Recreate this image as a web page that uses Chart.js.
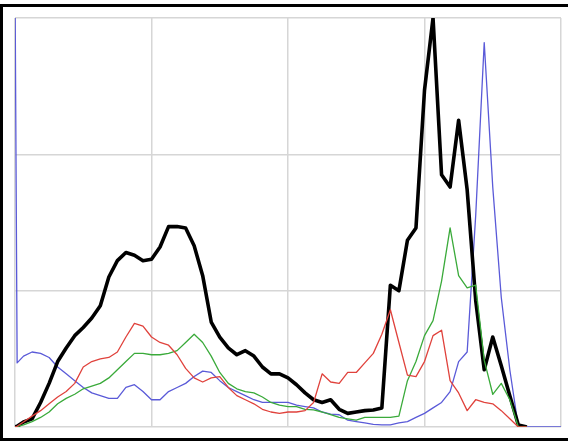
<!DOCTYPE html>
<html>
<head>
<meta charset="utf-8">
<script src="https://cdn.jsdelivr.net/npm/chart.js@4.4.0/dist/chart.umd.min.js"></script>
<style>
  html, body { margin: 0; padding: 0; background: #fff; }
  #wrap { position: relative; width: 568px; height: 441px; overflow: hidden; }
  #frame {
    position: absolute; left: 0; top: 4px; width: 580px; height: 431px;
    border-left: 3px solid #000; border-top: 3px solid #000; border-bottom: 3px solid #000;
  }
  #c { position: absolute; left: 0; top: 0; }
</style>
</head>
<body>
<div id="wrap">
  <div id="frame"></div>
  <canvas id="c" width="568" height="441"></canvas>
</div>
<script>
// intensidad (0..256), muestreo cada 4 con un punto extra en 1
const levels = [0, 1, 4, 8, 12, 16, 20, 24, 28, 32, 36, 40, 44, 48, 52, 56, 60, 64,
  68, 72, 76, 80, 84, 88, 92, 96, 100, 104, 108, 112, 116, 120, 124, 128,
  132, 136, 140, 144, 148, 152, 156, 160, 164, 168, 172, 176, 180, 184, 188, 192,
  196, 200, 204, 208, 212, 216, 220, 224, 228, 232, 236, 240, 244, 248, 252, 256];

// luminancia
const lum = [0, 0.5, 3.7, 6, 18, 32, 48, 58, 67, 73, 80, 89, 110, 122, 128, 126, 122, 123,
  132, 147, 147, 146, 133, 111, 77, 66, 58, 53, 56, 52, 44, 39, 39, 36,
  31, 25, 20, 18, 20, 13, 10, 11, 12, 12.5, 14, 104, 100, 137, 146, 247,
  300, 185, 176, 225, 174, 93, 42, 66, 45, 23, 1.5, 0, null, null, null, null];

const red = [0, 0.5, 3.7, 8, 12, 17, 22, 26, 32, 44, 48, 50, 51, 55, 66, 76, 74, 66,
  62, 60, 53, 43, 36, 33, 36, 37, 29, 23, 20, 17, 13, 11, 10, 11,
  11, 12, 18, 39, 33, 32, 40, 40, 47, 54, 68, 86, 62, 38, 37, 48,
  67, 71, 34, 25, 12, 20, 18, 17, 12, 6, 0, 0, null, null, null, null];

const green = [0, 0.3, 1.5, 4, 7, 11, 17, 21, 24, 28, 30, 32, 36, 42, 48, 54, 54, 53,
  53, 54, 56, 62, 68, 62, 52, 40, 32, 28, 26, 25, 22, 18, 16, 15,
  15, 13, 12.5, 11, 9, 7, 6, 5, 7, 7, 7, 7, 8, 34, 48, 67,
  78, 107, 146, 111, 102, 104, 49, 24, 32, 20, 0, 0, null, null, null, null];

const blue = [330, 47, 52, 55, 54, 51, 44, 39, 34, 29, 25, 23, 21, 21, 29, 31, 26, 20,
  20, 26, 29, 32, 37, 41, 40, 34, 29, 26, 23, 20, 18, 18, 18, 18,
  16, 15, 14, 11, 9.5, 9, 5, 4, 3, 2, 1.5, 1.5, 3, 4, 7, 10,
  14, 18, 26, 48, 55, 155, 282, 176, 95, 42, 0, 0, 0, 0, 0, 0];

const pts = arr => levels.map((x, i) => ({ x: x, y: arr[i] }));

const gridGray = '#d6d6d6';

new Chart(document.getElementById('c'), {
  type: 'line',
  data: {
    datasets: [
      { label: 'R', data: pts(red), borderColor: '#e0423c', borderWidth: 1.3 },
      { label: 'G', data: pts(green), borderColor: '#3aaa3a', borderWidth: 1.3 },
      { label: 'L', data: pts(lum), borderColor: '#000000', borderWidth: 3.6 },
      { label: 'B', data: pts(blue), borderColor: '#5a5ad8', borderWidth: 1.3 }
    ]
  },
  options: {
    responsive: false,
    animation: false,
    layout: { padding: { left: 15, top: 18, right: 7, bottom: 14 } },
    elements: {
      point: { radius: 0, hoverRadius: 0 },
      line: { tension: 0, fill: false, borderJoinStyle: 'round' }
    },
    scales: {
      x: {
        type: 'linear', min: 0, max: 256,
        ticks: { display: false, stepSize: 64 },
        grid: { color: gridGray, lineWidth: 1.5, drawTicks: false },
        border: { display: false }
      },
      y: {
        min: 0, max: 300,
        ticks: { display: false, stepSize: 100 },
        grid: { color: gridGray, lineWidth: 1.5, drawTicks: false },
        border: { display: false }
      }
    },
    plugins: {
      legend: { display: false },
      tooltip: { enabled: false }
    }
  }
});
</script>
</body>
</html>
